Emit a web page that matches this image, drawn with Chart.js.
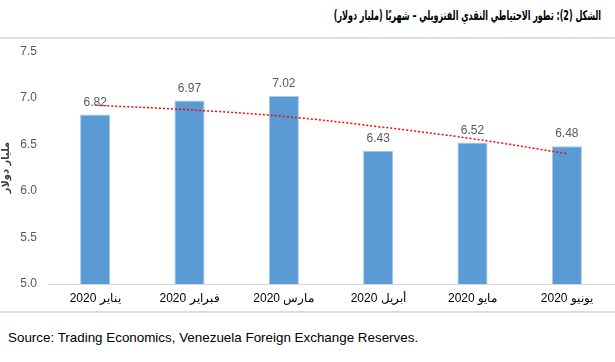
<!DOCTYPE html>
<html>
<head>
<meta charset="utf-8">
<script src="https://cdn.jsdelivr.net/npm/chart.js@4"></script>
<style>
    body { margin: 0; background: #fff; width: 615px; height: 362px; position: relative; overflow: hidden; font-family: "Liberation Sans", Arial, sans-serif; }
    #title { position: absolute; right: 14px; top: 7px; direction: rtl; font-weight: bold; font-size: 13.5px; color: #000; white-space: nowrap;
             font-family: "DejaVu Sans Condensed", "DejaVu Sans", sans-serif; transform: scaleX(0.66); transform-origin: right center; }
    .rule { position: absolute; left: 0; width: 615px; height: 2px; background: #dcdcdc; }
    #chartBox { position: absolute; left: 0; top: 33px; width: 615px; height: 278px; }
    #source { position: absolute; left: 8px; top: 330px; font-size: 13.4px; color: #000; }
</style>
</head>
<body>
<div id="title">الشكل (2): تطور الاحتياطي النقدي الفنزويلي – شهريًا (مليار دولار)</div>
<div class="rule" style="top:37px"></div>
<div id="chartBox"><canvas id="reserveChart" width="615" height="278"></canvas></div>
<div class="rule" style="top:311px"></div>
<div id="source">Source: Trading Economics, Venezuela Foreign Exchange Reserves.</div>
<script>
const months = ["يناير 2020", "فبراير 2020", "مارس 2020", "أبريل 2020", "مايو 2020", "يونيو 2020"];
const reserves = [6.82, 6.97, 7.02, 6.43, 6.52, 6.48];
// polynomial trend line
const trend = [6.92, 6.87, 6.80, 6.69, 6.56, 6.40];
const yTicks = [5.0, 5.5, 6.0, 6.5, 7.0, 7.5];

const barLabels = {
    id: "barLabels",
    afterDatasetsDraw(chart) {
        const ctx = chart.ctx;
        const meta = chart.getDatasetMeta(0);
        ctx.save();
        ctx.font = "12px 'Liberation Sans', Arial, sans-serif";
        ctx.fillStyle = "#595959";
        ctx.textAlign = "center";
        ctx.textBaseline = "bottom";
        meta.data.forEach((bar, i) => {
            ctx.fillText(reserves[i].toFixed(2), bar.x, bar.y - 6);
        });
        ctx.restore();
    }
};

new Chart(document.getElementById("reserveChart"), {
    type: "bar",
    data: {
        labels: months,
        datasets: [{
            type: "bar",
            data: reserves,
            backgroundColor: "#5b9bd5",
            borderColor: "#a9c8ea",
            borderWidth: 1,
            barPercentage: 0.64,
            categoryPercentage: 0.5,
            order: 2
        }, {
            type: "line",
            data: trend,
            borderColor: "#ff0000",
            borderWidth: 1.5,
            borderDash: [2, 2],
            pointRadius: 0,
            tension: 0.4,
            fill: false,
            order: 1
        }]
    },
    options: {
        responsive: false,
        animation: false,
        layout: { padding: { top: 0, right: 1, bottom: 0, left: 0 } },
        plugins: { legend: { display: false }, tooltip: { enabled: false } },
        scales: {
            x: {
                afterFit: axis => { axis.height = 27; },
                grid: { display: false, drawTicks: false },
                border: { color: "#d9d9d9", width: 1 },
                ticks: { color: "#000", font: { size: 12, family: "'Liberation Sans', Arial, sans-serif" }, padding: 7 }
            },
            y: {
                min: 5,
                max: 7.5,
                afterBuildTicks: axis => { axis.ticks = yTicks.map(v => ({ value: v })); },
                afterFit: axis => { axis.width = 48; },
                grid: { display: false, drawTicks: false },
                border: { display: false },
                ticks: {
                    color: "#595959",
                    font: { size: 12, family: "'Liberation Sans', Arial, sans-serif" },
                    padding: 11,
                    callback: v => Number(v).toFixed(1)
                },
                title: {
                    display: true,
                    text: "مليار دولار",
                    color: "#404040",
                    font: { size: 11, weight: "bold", family: "'DejaVu Sans Condensed', 'DejaVu Sans', sans-serif" },
                    padding: { top: 0, bottom: 3 }
                }
            }
        }
    },
    plugins: [barLabels]
});
</script>
</body>
</html>
